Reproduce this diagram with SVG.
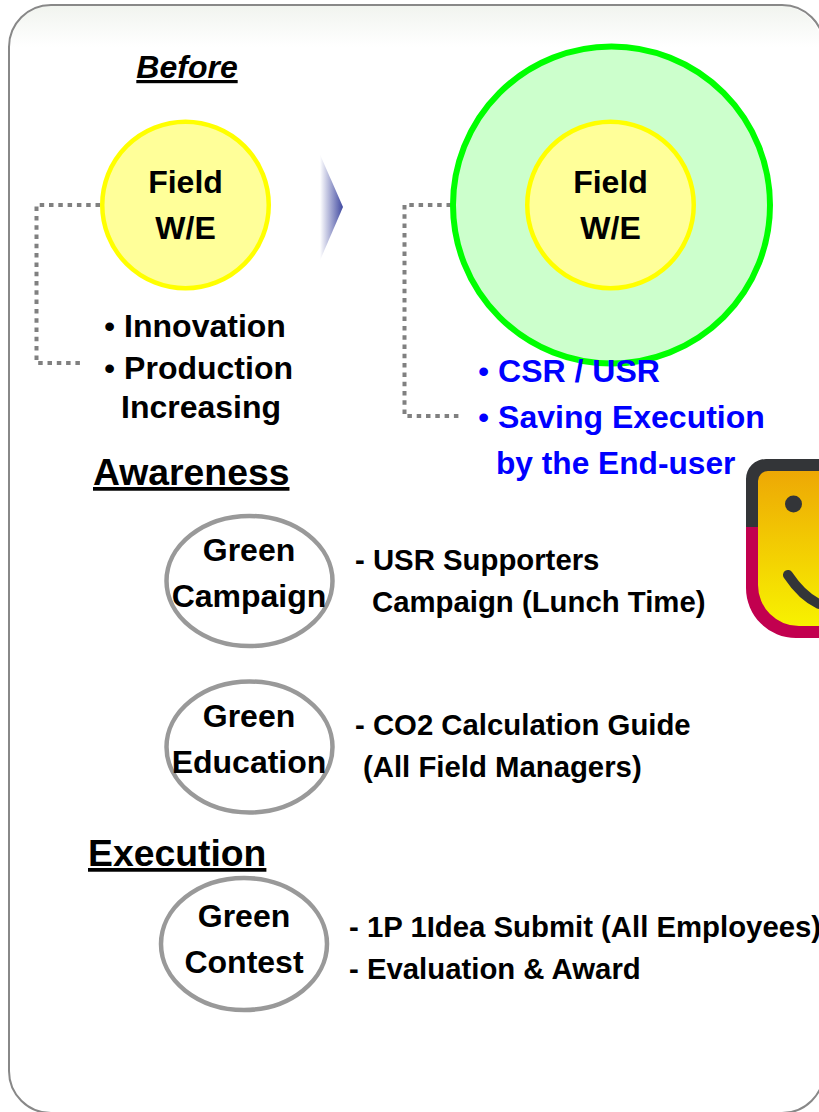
<svg xmlns="http://www.w3.org/2000/svg" width="819" height="1112" viewBox="0 0 819 1112">
<style>
text{font-family:"Liberation Sans",Arial,sans-serif;font-weight:700;fill:#000}
.t{font-size:32px}
.m{text-anchor:middle}
.h{font-size:37.330px;text-decoration:underline}
.b{fill:#0000ff;font-size:32px}
.s{font-size:29.330px}
.y{fill:#ffff99;stroke:#ffff00;stroke-width:4.500}
.g{fill:#fff;stroke:#999;stroke-width:4.500}
.d{fill:none;stroke:#808080;stroke-width:4;stroke-dasharray:4.500 4.800}
</style>
<defs>
<linearGradient id="top" x1="0" y1="0" x2="0" y2="1"><stop offset="0" stop-color="#f1f4ef"/><stop offset="1" stop-color="#fff"/></linearGradient>
<linearGradient id="arr" x1="0" y1="0" x2="1" y2="0"><stop offset="0.080" stop-color="#fff"/><stop offset="1" stop-color="#3f48a0"/></linearGradient>
<linearGradient id="face" x1="0" y1="0" x2="0" y2="1"><stop offset="0" stop-color="#eda505"/><stop offset="1" stop-color="#f8f500"/></linearGradient>
</defs>
<rect width="819" height="1112" fill="#fff"/>
<path d="M10 47A41 41 0 0 1 51 6H781A41 41 0 0 1 819 32V47Z" fill="url(#top)"/>
<rect x="9" y="5" width="815" height="1108" rx="42" fill="none" stroke="#888" stroke-width="2"/>

<g id="connectors">
<path class="d" d="M100 205H36.500V363H81"/>
<path class="d" d="M451 205H404.500V416H459"/>
</g>
<path id="arrow" d="M318 150L343 207L318 265Z" fill="url(#arr)"/>

<g id="before-title"><text x="187" y="78" font-style="italic" font-size="32" text-decoration="underline" class="m">Before</text></g>

<g id="field-before">
<circle class="y" cx="185.500" cy="205" r="83.250"/>
<text class="t m" x="185.500" y="193">Field</text>
<text class="t m" x="185.500" y="238.500">W/E</text>
</g>

<g id="field-after">
<circle cx="611.500" cy="205" r="158.500" fill="#ccffcc" stroke="#00ff00" stroke-width="6"/>
<circle class="y" cx="610.500" cy="205" r="83.250"/>
<text class="t m" x="610.500" y="193">Field</text>
<text class="t m" x="610.500" y="238.500">W/E</text>
</g>

<g id="before-list">
<text class="t" x="104" y="337"><tspan font-weight="400">•</tspan> Innovation</text>
<text class="t" x="104" y="379"><tspan font-weight="400">•</tspan> Production</text>
<text class="t" x="121" y="418">Increasing</text>
</g>

<g id="after-list">
<text class="b" x="478" y="382"><tspan font-weight="400">•</tspan> CSR / USR</text>
<text class="b" x="478" y="428"><tspan font-weight="400">•</tspan> Saving Execution</text>
<text class="b" x="496" y="474" style="font-size:31.700px">by the End-user</text>
</g>

<g id="face-icon">
<path d="M752 527V481A16 16 0 0 1 768 465H819V632H796A44 44 0 0 1 752 588Z" fill="url(#face)"/>
<path d="M746 527H758V585A41 41 0 0 0 799 626H819V638H796A50 50 0 0 1 746 588Z" fill="#c2004f"/>
<path d="M746 527V479A20 20 0 0 1 766 459H819V471H768A10 10 0 0 0 758 481V527Z" fill="#333538"/>
<circle cx="793.500" cy="504" r="8.500" fill="#333538"/>
<path d="M788 575Q802 596 819 604" fill="none" stroke="#333538" stroke-width="10" stroke-linecap="round"/>
</g>

<g id="awareness"><text class="h" x="93" y="485">Awareness</text></g>

<g id="green-campaign">
<ellipse class="g" cx="249.500" cy="581" rx="83" ry="65"/>
<text class="t m" x="249" y="561">Green</text>
<text class="t m" x="249" y="606.500">Campaign</text>
</g>
<g id="campaign-text">
<text class="s" x="355" y="569.500">- USR Supporters</text>
<text class="s" x="372" y="611.500">Campaign (Lunch Time)</text>
</g>

<g id="green-education">
<ellipse class="g" cx="249.500" cy="747" rx="83" ry="65.500"/>
<text class="t m" x="249" y="727">Green</text>
<text class="t m" x="249" y="772.500">Education</text>
</g>
<g id="education-text">
<text class="s" x="355" y="734.500">- CO2 Calculation Guide</text>
<text class="s" x="363" y="776.500">(All Field Managers)</text>
</g>

<g id="execution"><text class="h" x="88" y="866">Execution</text></g>

<g id="green-contest">
<ellipse class="g" cx="244" cy="944" rx="83" ry="66"/>
<text class="t m" x="244" y="927">Green</text>
<text class="t m" x="244" y="972.500">Contest</text>
</g>
<g id="contest-text">
<text class="s" x="349" y="936.500">- 1P 1Idea Submit (All Employees)</text>
<text class="s" x="349" y="978.500">- Evaluation &amp; Award</text>
</g>
</svg>
